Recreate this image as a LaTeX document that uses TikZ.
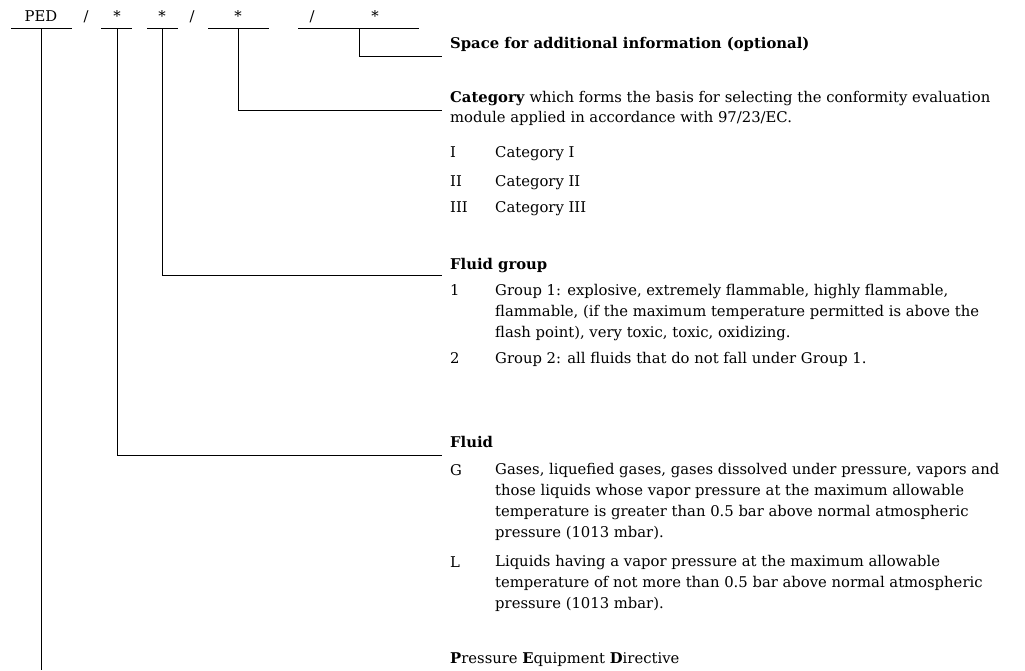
\documentclass[tikz,border=0pt]{standalone}
\usepackage{fontspec}
\setmainfont{DejaVu Serif}
\usetikzlibrary{positioning}

\tikzset{
  code/.style={anchor=base, inner sep=0pt},
  body/.style={anchor=base west, inner sep=0pt, align=left},
  lead/.style={line width=1pt},
}

\begin{document}
\begin{tikzpicture}[x=1pt, y=-1pt, font=\fontsize{14.8}{20.7}\selectfont]
  \useasboundingbox (0,0) rectangle (1025,671);
  % order code
  \node[code] (ped) at (41,22) {PED};
  \node[code] (sl1) at (86,22) {/};
  \node[code] (fl) at (117,22) {*};
  \node[code] (grp) at (162,22) {*};
  \node[code] (sl2) at (192,22) {/};
  \node[code] (cat) at (238,22) {*};
  \node[code] (sl3) at (312,22) {/};
  \node[code] (add) at (375,22) {*};
  \draw[lead] (11,29) -- (72,29);
  \draw[lead] (101,29) -- (132,29);
  \draw[lead] (147,29) -- (178,29);
  \draw[lead] (208,29) -- (269,29);
  \draw[lead] (298,29) -- (419,29);
  % leader ends
  \coordinate (u1) at (41,29);   \coordinate (e1) at (41,670);
  \coordinate (u2) at (117,29);  \coordinate (e2) at (442,455);
  \coordinate (u3) at (162,29);  \coordinate (e3) at (442,275);
  \coordinate (u4) at (238,29);  \coordinate (e4) at (442,111);
  \coordinate (u5) at (359,29);  \coordinate (e5) at (442,57);
  \draw[lead] (u1) -- (e1);
  \draw[lead] (u2) |- (e2);
  \draw[lead] (u3) |- (e3);
  \draw[lead] (u4) |- (e4);
  \draw[lead] (u5) |- (e5);
  % texts (multi-line nodes sit on their last baseline)
  \node[body] (addinfo) at (450,49) {\textbf{Space for additional information (optional)}};
  \node[body] (cathead) at (450,123) {\textbf{Category} which forms the basis for selecting the conformity evaluation\\module applied in accordance with 97/23/EC.};
  \node[body] (c1) at (450,158) {I};
  \node[body] (c1t) at (495,158) {Category I};
  \node[body] (c2) at (450,186) {II};
  \node[body] (c2t) at (495,186) {Category II};
  \node[body] (c3) at (450,213) {III};
  \node[body] (c3t) at (495,213) {Category III};
  \node[body] (grphead) at (450,269) {\textbf{Fluid group}};
  \node[body] (g1) at (450,295) {1};
  \node[body] (g1t) at (495,337) {Group 1: explosive, extremely flammable, highly flammable,\\flammable, (if the maximum temperature permitted is above the\\flash point), very toxic, toxic, oxidizing.};
  \node[body] (g2) at (450,363) {2};
  \node[body] (g2t) at (495,363) {Group 2: all fluids that do not fall under Group 1.};
  \node[body] (flhead) at (450,447) {\textbf{Fluid}};
  \node[body] (fg) at (450,475) {G};
  \node[body] (fgt) at (495,537) {Gases, liquefied gases, gases dissolved under pressure, vapors and\\those liquids whose vapor pressure at the maximum allowable\\temperature is greater than 0.5 bar above normal atmospheric\\pressure (1013 mbar).};
  \node[body] (fl2) at (450,567) {L};
  \node[body] (fl2t) at (495,608) {Liquids having a vapor pressure at the maximum allowable\\temperature of not more than 0.5 bar above normal atmospheric\\pressure (1013 mbar).};
  \node[body] (pedtext) at (450,663) {\textbf{P}ressure \textbf{E}quipment \textbf{D}irective};
\end{tikzpicture}
\end{document}
